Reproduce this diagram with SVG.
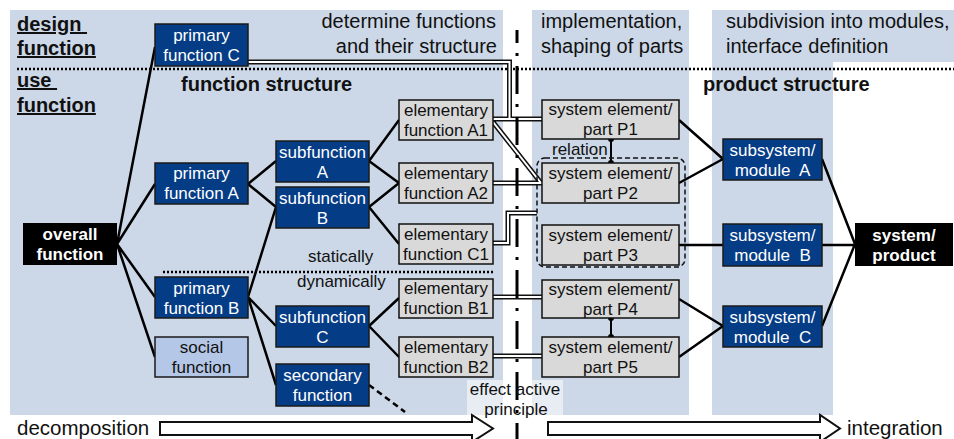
<svg xmlns="http://www.w3.org/2000/svg" width="954" height="439" viewBox="0 0 954 439">
<style>
text{font-family:"Liberation Sans",Arial,sans-serif;fill:#111}
.t17{font-size:17px}
.hdr{font-size:20px}
.ttl{font-size:20px;font-weight:bold}
.big{font-size:20.5px}
.pan{fill:#CCD8E7}
.dk rect{fill:#053C86;stroke:#1a1a1a;stroke-width:1.5}
.dk text{fill:#fff;font-size:17px;text-anchor:middle}
.lt rect{fill:#B4C7E7;stroke:#1a1a1a;stroke-width:1.5}
.lt text{font-size:17px;text-anchor:middle}
.el rect{fill:#D9D9D9;stroke:#111;stroke-width:1.5}
.el text{font-size:17px;text-anchor:middle}
.bk rect{fill:#000}
.bk text{fill:#fff;font-size:17px;font-weight:bold;text-anchor:middle}
.ln{stroke:#000;stroke-width:2.5;fill:none}
.dbo{stroke:#111;stroke-width:5;fill:none}
.dbi{stroke:#fff;stroke-width:2;fill:none}
.dot{stroke:#000;stroke-width:2.5;stroke-dasharray:2 2;fill:none}
</style>

<g id="panels">
<rect class="pan" x="10" y="10" width="493" height="405"/>
<rect class="pan" x="532" y="10" width="157" height="405"/>
<rect class="pan" x="712" y="10" width="242" height="52"/>
<rect class="pan" x="712" y="10" width="121" height="405"/>
</g>

<g id="labels">
<text x="17" y="31" class="ttl" text-decoration="underline" style="white-space:pre">design </text>
<text x="17" y="55" class="ttl" text-decoration="underline">function</text>
<text x="17" y="87" class="ttl" text-decoration="underline" style="white-space:pre">use </text>
<text x="17" y="112" class="ttl" text-decoration="underline">function</text>
<text x="181" y="91" class="ttl">function structure</text>
<text x="703" y="91" class="ttl">product structure</text>
<text x="496" y="28" class="hdr" text-anchor="end">determine functions</text>
<text x="497" y="53" class="hdr" text-anchor="end">and their structure</text>
<text x="541" y="28" class="hdr">implementation,</text>
<text x="541" y="53" class="hdr">shaping of parts</text>
<text x="726" y="28" class="hdr">subdivision into modules,</text>
<text x="726" y="53" class="hdr">interface definition</text>
<text x="308" y="262" class="t17">statically</text>
<text x="297" y="287" class="t17">dynamically</text>
<text x="552" y="155" class="t17">relation</text>
</g>

<g id="dividers">
<line class="dot" x1="17" y1="69" x2="954" y2="69"/>
<line class="dot" x1="163" y1="272" x2="495" y2="272"/>
</g>

<g id="connectors">
<path class="ln" d="M117,244 L155,47 M117,244 L155,184 M117,244 L155,297 M117,244 L155,357"/>
<path class="ln" d="M248,184 L276,161 M248,184 L276,207 M248,297 L276,207 M248,297 L276,326 M248,297 L276,385"/>
<path class="ln" d="M369,161 L399,120 M369,161 L399,183 M369,207 L399,183 M369,207 L399,244 M369,326 L399,298 M369,326 L399,357"/>
<path class="ln" d="M369,385 L405,412" stroke-dasharray="6 4"/>
<path class="ln" d="M679,120 L723,159 M679,183 L723,159 M679,245 L723,245 M679,299 L723,326 M679,357 L723,326"/>
<path class="ln" d="M822,159 L855,244 M822,245 L855,245 M822,326 L855,244"/>
<g id="double-lines">
<path class="dbo" d="M248,62 H509.5 V119 M493,119 H542 M493,122 L541,183 M493,183 H542 M493,243 H508 V213 H537 M493,297 H542 M493,356 H542"/>
<path class="dbi" d="M248,62 H509.5 V119 M493,119 H542 M493,122 L541,183 M493,183 H542 M493,243 H508 V213 H537 M493,297 H542 M493,356 H542"/>
</g>
<g id="relations">
<line x1="611" y1="139" x2="611" y2="163" stroke="#000" stroke-width="2"/>
<circle cx="611" cy="139" r="3"/><circle cx="611" cy="163" r="3"/>
<line x1="611" y1="318" x2="611" y2="337" stroke="#000" stroke-width="2"/>
<circle cx="611" cy="318" r="3"/><circle cx="611" cy="337" r="3"/>
</g>
<rect x="537" y="158" width="148" height="109" rx="8" fill="none" stroke="#111" stroke-width="1.5" stroke-dasharray="5 3"/>
</g>

<g id="effect-principle">
<rect x="467" y="380" width="96" height="37" fill="#fff" fill-opacity="0.55"/>
<line x1="517" y1="30" x2="517" y2="439" stroke="#000" stroke-width="3" stroke-dasharray="28 10 3 10" stroke-dashoffset="15"/>
<text x="515" y="395" class="t17" text-anchor="middle">effect active</text>
<text x="516" y="415" class="t17" text-anchor="middle">principle</text>
</g>

<g id="primary-function-C" class="dk"><rect x="155" y="24" width="93" height="42"/><text x="201.5" y="41">primary</text><text x="201.5" y="61">function C</text></g>
<g id="overall-function" class="bk"><rect x="23" y="223" width="94" height="42"/><text x="70" y="240">overall</text><text x="70" y="260">function</text></g>
<g id="primary-function-A" class="dk"><rect x="155" y="163" width="93" height="41"/><text x="201.5" y="179">primary</text><text x="201.5" y="199">function A</text></g>
<g id="primary-function-B" class="dk"><rect x="155" y="277" width="93" height="41"/><text x="201.5" y="293.5">primary</text><text x="201.5" y="313.5">function B</text></g>
<g id="social-function" class="lt"><rect x="155" y="337" width="93" height="40"/><text x="201.5" y="353">social</text><text x="201.5" y="373">function</text></g>
<g id="subfunction-A" class="dk"><rect x="276" y="141" width="93" height="41"/><text x="322.5" y="157.5">subfunction</text><text x="322.5" y="177.5">A</text></g>
<g id="subfunction-B" class="dk"><rect x="276" y="187" width="93" height="41"/><text x="322.5" y="203.5">subfunction</text><text x="322.5" y="223.5">B</text></g>
<g id="subfunction-C" class="dk"><rect x="276" y="306" width="93" height="41"/><text x="322.5" y="322.5">subfunction</text><text x="322.5" y="342.5">C</text></g>
<g id="secondary-function" class="dk"><rect x="276" y="364" width="93" height="42"/><text x="322.5" y="381">secondary</text><text x="322.5" y="401">function</text></g>

<g id="elementary-A1" class="el"><rect x="399" y="100" width="94" height="40"/><text x="446" y="115.5">elementary</text><text x="446" y="135.5">function A1</text></g>
<g id="elementary-A2" class="el"><rect x="399" y="163" width="94" height="40"/><text x="446" y="178.5">elementary</text><text x="446" y="198.5">function A2</text></g>
<g id="elementary-C1" class="el"><rect x="399" y="224" width="94" height="40"/><text x="446" y="239.5">elementary</text><text x="446" y="259.5">function C1</text></g>
<g id="elementary-B1" class="el"><rect x="399" y="279" width="94" height="39"/><text x="446" y="294">elementary</text><text x="446" y="314">function B1</text></g>
<g id="elementary-B2" class="el"><rect x="399" y="337" width="94" height="40"/><text x="446" y="352.5">elementary</text><text x="446" y="372.5">function B2</text></g>

<g id="part-P1" class="el"><rect x="542" y="100" width="137" height="39"/><text x="610.5" y="115">system element/</text><text x="610.5" y="135">part P1</text></g>
<g id="part-P2" class="el"><rect x="542" y="163" width="137" height="40"/><text x="610.5" y="178.5">system element/</text><text x="610.5" y="198.5">part P2</text></g>
<g id="part-P3" class="el"><rect x="542" y="225" width="137" height="40"/><text x="610.5" y="240.5">system element/</text><text x="610.5" y="260.5">part P3</text></g>
<g id="part-P4" class="el"><rect x="542" y="280" width="137" height="38"/><text x="610.5" y="294.5">system element/</text><text x="610.5" y="314.5">part P4</text></g>
<g id="part-P5" class="el"><rect x="542" y="337" width="137" height="40"/><text x="610.5" y="352.5">system element/</text><text x="610.5" y="372.5">part P5</text></g>

<g id="module-A" class="dk"><rect x="723" y="139" width="99" height="41"/><text x="772.5" y="155.5">subsystem/</text><text x="772.5" y="175.5" style="white-space:pre">module  A</text></g>
<g id="module-B" class="dk"><rect x="723" y="224" width="99" height="42"/><text x="772.5" y="241">subsystem/</text><text x="772.5" y="261" style="white-space:pre">module  B</text></g>
<g id="module-C" class="dk"><rect x="723" y="306" width="99" height="41"/><text x="772.5" y="322.5">subsystem/</text><text x="772.5" y="342.5" style="white-space:pre">module  C</text></g>
<g id="system-product" class="bk"><rect x="855" y="223" width="98" height="43"/><text x="904" y="240.5">system/</text><text x="904" y="260.5">product</text></g>

<g id="flow-arrows">
<polygon points="160,422 472,422 472,415 493,428.5 472,442 472,435 160,435" fill="#fff" stroke="#111" stroke-width="2"/>
<polygon points="548,422 820,422 820,415 840,428.5 820,442 820,435 548,435" fill="#fff" stroke="#111" stroke-width="2"/>
<text x="17" y="435" class="big">decomposition</text>
<text x="847" y="435" class="big">integration</text>
</g>
</svg>
